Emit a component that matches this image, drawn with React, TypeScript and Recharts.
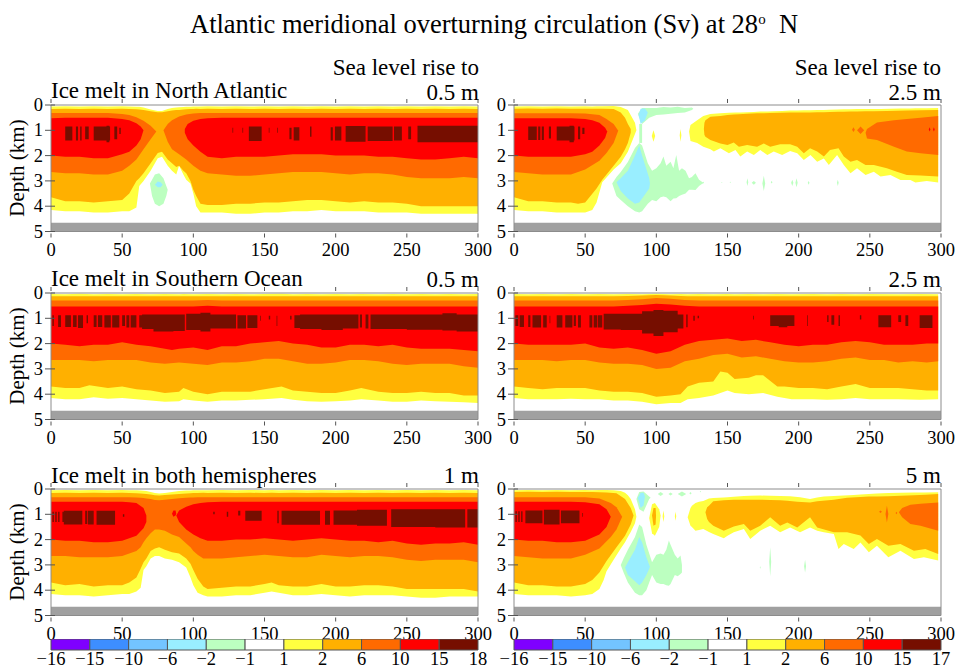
import React from 'react'
import { Area, Bar, BarChart, ComposedChart, XAxis, YAxis } from 'recharts'

// every band row is [x (yr), top depth (km), bottom depth (km)]
type Row = [number, number, number]

const xTicks = [0, 50, 100, 150, 200, 250, 300]
const depthTicks = [0, 1, 2, 3, 4, 5]
const colorbarLeft = ['−16', '−15', '−10', '−6', '−2', '−1', '1', '2', '6', '10', '15', '18']
const colorbarRight = ['−16', '−15', '−10', '−6', '−2', '−1', '1', '2', '6', '10', '15', '17']
const colorbarSteps = [0, 1, 2, 3, 4, 5, 6, 7, 8, 9, 10, 11]

const PURPLE = '#7f00ff'
const BLUE = '#3d8eff'
const SKY = '#73c4ff'
const CYAN = '#99eeff'
const GREEN = '#bcffc0'
const WHITE = '#ffffff'
const YELLOW = '#ffff40'
const ORANGE = '#ffb000'
const DARK_ORANGE = '#ff6a00'
const RED = '#ff0000'
const DARK_RED = '#760e00'
const GREY = '#a0a0a0'
const cells = [PURPLE, BLUE, SKY, CYAN, GREEN, WHITE, YELLOW, ORANGE, DARK_ORANGE, RED, DARK_RED]

const landBand: Row[] = [[0, 4.65, 5], [300, 4.65, 5]]

// North Atlantic, 0.5 m
const naYellow: Row[] = [[0,.06,4.15],[10,.05,4.2],[20,.06,4.2],[30,.05,4.25],[40,.06,4.25],[50,.05,4.2],[55,.06,4.2],[60,.07,4.05],[62,.07,3.2],[65,.1,3.0],[70,.18,2.6],[75,.24,2.1],[78,.24,2.05],[82,.16,2.4],[85,.12,2.6],[88,.1,2.75],[90,.09,2.4],[93,.08,2.75],[95,.07,2.95],[98,.07,3.1],[100,.06,3.5],[102,.06,4.0],[105,.06,4.25],[110,.05,4.25],[120,.06,4.25],[130,.05,4.3],[140,.06,4.3],[150,.05,4.25],[160,.06,4.25],[170,.05,4.2],[180,.06,4.2],[190,.05,4.15],[200,.06,4.2],[210,.05,4.2],[220,.06,4.2],[230,.05,4.25],[240,.06,4.25],[250,.05,4.25],[260,.06,4.3],[270,.05,4.3],[280,.06,4.3],[290,.05,4.3],[300,.06,4.3]]
const naOrange: Row[] = [[0,.16,3.65],[10,.15,3.8],[20,.16,3.8],[30,.15,3.85],[40,.16,3.8],[50,.15,3.75],[55,.16,3.5],[60,.17,3.0],[62,.18,2.9],[65,.2,2.7],[70,.25,2.3],[75,.29,1.9],[78,.29,1.85],[82,.25,2.15],[85,.22,2.3],[88,.2,2.45],[90,.2,2.4],[93,.18,2.6],[95,.17,2.7],[98,.16,3.0],[100,.16,3.35],[102,.15,3.6],[105,.16,3.9],[110,.15,3.95],[120,.16,3.95],[130,.15,3.9],[140,.16,3.9],[150,.15,3.85],[160,.16,3.85],[170,.15,3.8],[180,.16,3.75],[190,.15,3.75],[200,.16,3.8],[210,.15,3.85],[220,.16,3.8],[230,.15,3.85],[240,.16,3.85],[250,.15,3.9],[260,.16,4.0],[270,.15,4.0],[280,.16,4.0],[290,.15,4.0],[300,.16,4.0]]
const naDarkOrangeLeft: Row[] = [[0,.32,2.65],[10,.32,2.7],[20,.32,2.7],[30,.32,2.75],[40,.32,2.75],[50,.36,2.6],[55,.4,2.4],[60,.48,2.15],[65,.62,1.75],[70,.82,1.35],[74,1.05,1.05]]
const naDarkOrangeRight: Row[] = [[79,1.0,1.0],[82,.75,1.45],[85,.6,1.75],[90,.45,1.95],[95,.38,2.15],[100,.34,2.4],[105,.32,2.6],[110,.32,2.7],[120,.32,2.75],[130,.32,2.8],[140,.32,2.8],[150,.32,2.75],[160,.32,2.7],[170,.32,2.65],[180,.32,2.65],[190,.32,2.65],[200,.32,2.7],[210,.32,2.75],[220,.32,2.7],[230,.32,2.7],[240,.32,2.75],[250,.32,2.85],[260,.32,2.9],[270,.32,2.9],[280,.32,2.9],[290,.32,2.85],[300,.32,2.9]]
const naRedLeft: Row[] = [[0,.52,2.0],[10,.5,2.05],[20,.5,2.05],[30,.5,2.1],[40,.5,2.1],[50,.55,1.95],[55,.6,1.85],[60,.72,1.6],[63,.85,1.35],[65,1.0,1.0]]
const naRedRight: Row[] = [[94,.95,1.1],[96,.75,1.35],[100,.62,1.6],[105,.55,1.85],[110,.52,2.05],[120,.5,2.1],[130,.5,2.05],[140,.5,2.05],[150,.5,2.05],[160,.5,2.0],[170,.5,1.95],[180,.5,1.95],[190,.5,1.95],[200,.5,2.0],[210,.5,2.0],[220,.5,2.0],[230,.5,2.05],[240,.5,2.05],[250,.5,2.1],[260,.5,2.15],[270,.5,2.15],[280,.5,2.1],[290,.5,2.05],[300,.5,2.1]]
const naGreen: Row[] = [[69.5,3.1,3.1],[71,2.95,3.6],[73,2.75,3.9],[76,2.7,4.0],[79,2.9,3.9],[81,3.2,3.6],[82,3.35,3.35]]
const naCyan: Row[] = [[73,3.15,3.15],[75,3.02,3.25],[77,3.05,3.25],[78.5,3.15,3.15]]
// dark red stripes: [x start, x end, top, bottom]
const naStripes = [[10,15,.85,1.4],[17.5,19,.85,1.4],[20.5,21.5,.85,1.4],[24,26.5,.85,1.35],[30,41.5,.85,1.4],[39,41,.82,1.47],[44.5,46.5,.85,1.35],[48,49,.9,1.15],[127.5,128,.9,1.1],[134.5,135,.9,1.1],[139,148,.85,1.42],[153,153.5,.9,1.1],[159,159.5,.9,1.1],[167.5,169,.9,1.35],[170.5,174.5,.88,1.4],[182,183,.85,1.25],[196.5,198,.88,1.4],[199.5,204,.85,1.4],[207,221,.83,1.45],[222.5,240,.85,1.42],[241,246.5,.85,1.4],[251,253,.85,1.35],[257.5,300,.82,1.47]]

// North Atlantic, 2.5 m
const na25Yellow: Row[] = [[0,.06,4.15],[10,.05,4.2],[20,.06,4.2],[30,.05,4.25],[40,.06,4.25],[50,.05,4.25],[55,.06,4.15],[58,.05,3.85],[62,.05,3.05],[70,.04,2.55],[75,.08,2.3],[80,.2,1.85],[85,.7,1.15],[86,1.0,1.0]]
const na25Orange: Row[] = [[0,.15,3.65],[10,.14,3.8],[20,.15,3.8],[30,.14,3.85],[40,.15,3.85],[45,.15,3.9],[50,.15,3.85],[58,.15,3.3],[62,.15,2.95],[70,.16,2.4],[75,.3,2.05],[78,.5,1.75],[80,.75,1.5],[82,.95,1.1]]
const na25DarkOrange: Row[] = [[0,.33,2.65],[10,.33,2.7],[20,.33,2.75],[30,.33,2.75],[40,.33,2.75],[50,.34,2.55],[60,.4,2.2],[65,.55,1.9],[70,.75,1.5],[73,1.0,1.05]]
const na25Red: Row[] = [[0,.52,2.0],[10,.52,2.05],[20,.52,2.05],[30,.52,2.05],[40,.52,2.05],[50,.55,1.95],[55,.6,1.85],[60,.7,1.6],[64,.9,1.3],[65.5,1.05,1.05]]
const na25Stripes = [[10,16,.85,1.38],[17,18.5,.85,1.38],[19.5,21,.85,1.38],[24.5,26,.85,1.32],[30,42.5,.85,1.4],[39,42,.82,1.47],[45,46.5,.85,1.35],[48,49.5,.9,1.15]]
const na25UpperGreen: Row[] = [[87,.35,.35],[90,.12,.75],[95,.12,.5],[100,.12,.4],[105,.08,.38],[110,.1,.35],[115,.07,.32],[120,.12,.3],[125,.1,.2],[126,.15,.15]]
const na25UpperCyan: Row[] = [[87.5,.4,.4],[89,.15,.75],[92,.14,.6],[94,.3,.3]]
const na25Neck: Row[] = [[88,.75,1.5],[90,.75,1.5]]
const na25LowerGreen: Row[] = [[69,3.1,3.1],[72,2.85,3.6],[75,2.65,3.75],[80,2.25,4.0],[85,1.7,4.2],[88,1.5,4.25],[90,1.6,4.2],[94,2.3,3.9],[97,2.6,3.75],[100,2.5,3.8],[103,2.3,3.65],[105,2.04,3.62],[107,2.4,3.65],[110,2.24,3.8],[112,2.5,3.7],[114,1.98,3.69],[116,2.6,3.6],[118,2.5,3.55],[120.5,2.6,3.5],[123,2.9,3.35],[125,2.85,3.35],[127.5,2.7,3.36],[130,2.95,3.2],[132,3.03,3.12],[133.5,3.08,3.08]]
const na25LowerCyan: Row[] = [[72,3.05,3.05],[75,2.9,3.4],[80,2.6,3.7],[85,2.0,3.9],[88,1.6,3.85],[90,2.0,3.7],[95,2.9,3.3],[95.5,3.1,3.1]]
const na25RightYellow: Row[] = [[123,1.05,1.05],[124,.79,1.42],[128.7,.6,1.5],[133,.43,1.65],[138,.36,1.75],[140.4,.35,1.84],[145,.33,1.71],[151,.31,1.91],[155.6,.3,1.78],[159,.3,2.04],[163.8,.29,1.84],[168.5,.28,1.98],[173,.26,1.78],[178,.26,1.98],[182.5,.25,1.84],[188.4,.24,1.98],[194,.22,1.82],[199,.22,1.91],[203.6,.21,2.17],[208.3,.21,1.98],[213,.2,2.24],[217.7,.2,2.11],[221.2,.19,2.37],[227,.18,1.98],[231.7,.17,2.37],[236.4,.17,2.7],[241,.16,2.5],[247,.16,2.77],[252.8,.16,2.64],[257.5,.16,2.83],[264.5,.15,2.77],[271.5,.14,2.96],[278.5,.14,2.96],[282,.13,3.06],[290,.13,3.0],[298,.12,3.06]]
const na25RightOrange: Row[] = [[133.4,.95,.95],[133.8,.7,1.19],[134.5,.6,1.25],[138,.46,1.38],[145,.43,1.52],[150,.4,1.58],[154.4,.38,1.48],[158,.37,1.65],[163.8,.35,1.58],[170.8,.33,1.65],[175.5,.33,1.52],[180,.32,1.65],[187,.31,1.55],[194,.3,1.55],[199,.3,1.65],[203.6,.3,1.91],[208,.3,1.71],[213,.29,1.84],[217.7,.29,2.04],[222,.28,1.78],[228,.27,1.71],[231.7,.27,2.04],[236.4,.26,2.24],[241,.26,2.17],[247,.25,2.37],[252.8,.25,2.37],[262,.24,2.5],[269,.23,2.64],[276,.22,2.77],[285.6,.21,2.79],[298,.2,2.83]]
const na25RightDarkOrange: Row[] = [[247,1.1,1.1],[248,.95,1.32],[255,.69,1.38],[267,.6,1.65],[276,.55,1.84],[285.6,.5,1.91],[298,.43,1.98]]
const na25DarkOrangeSpecks = [[238.5,1,.88,1.07],[243.5,2.5,.85,1.15]]
const na25GreenSpecks = [[164,.6,2.9,3.2],[168.5,1.5,3.0,3.15],[175.5,1,2.8,3.4],[181,.6,3.0,3.1],[195.5,.8,2.95,3.2],[198.5,.8,2.9,3.25],[207,.6,3.0,3.15],[227.5,.6,2.95,3.2],[133,.6,3.03,3.08],[152,.5,3.03,3.07],[146,.5,3.04,3.07]]
const na25YellowSpecks = [[84.5,.8,.85,1.05],[98,1.2,1.0,1.45],[117,.6,.95,1.45]]
const na25RedSpecks = [[292,.6,.88,1.05],[295,.6,.88,1.05]]

// Southern Ocean, 0.5 m
const soYellow: Row[] = [[0,.04,4.15],[10,.05,4.2],[20,.03,4.2],[30,.05,4.12],[40,.04,4.18],[50,.05,4.15],[60,.04,4.2],[70,.05,4.25],[80,.04,4.3],[90,.05,4.28],[93,.04,4.2],[100,.05,4.25],[110,.04,4.3],[120,.05,4.25],[130,.04,4.25],[140,.05,4.22],[150,.04,4.2],[162,.03,4.15],[170,.05,4.22],[180,.04,4.28],[190,.05,4.3],[200,.04,4.28],[210,.05,4.25],[218,.04,4.2],[230,.05,4.25],[240,.04,4.3],[250,.05,4.3],[260,.04,4.25],[270,.05,4.28],[280,.04,4.3],[290,.05,4.32],[300,.04,4.35]]
const soOrange: Row[] = [[0,.13,3.7],[10,.13,3.75],[20,.13,3.75],[27,.13,3.65],[40,.13,3.75],[50,.13,3.7],[60,.13,3.8],[70,.13,3.85],[80,.13,3.95],[90,.13,3.9],[93,.13,3.75],[100,.13,3.9],[110,.13,4.0],[120,.13,3.9],[130,.13,3.9],[140,.13,3.9],[150,.13,3.8],[162,.13,3.7],[170,.13,3.85],[180,.13,3.9],[190,.13,3.95],[200,.13,3.95],[210,.13,3.85],[218,.13,3.75],[230,.13,3.9],[240,.13,3.95],[250,.13,3.95],[260,.13,3.9],[270,.13,3.95],[280,.13,3.95],[290,.13,4.05],[300,.13,4.05]]
const soDarkOrange: Row[] = [[0,.3,2.65],[10,.3,2.65],[20,.3,2.65],[30,.3,2.7],[40,.3,2.65],[50,.3,2.65],[60,.3,2.65],[70,.3,2.75],[80,.3,2.8],[90,.3,2.75],[100,.3,2.8],[110,.28,2.85],[120,.3,2.75],[130,.3,2.75],[140,.3,2.7],[150,.3,2.6],[160,.3,2.6],[170,.3,2.7],[180,.3,2.8],[190,.3,2.8],[200,.3,2.75],[210,.3,2.65],[220,.3,2.65],[230,.3,2.7],[240,.3,2.8],[250,.3,2.85],[260,.3,2.8],[270,.3,2.8],[280,.3,2.8],[290,.3,2.9],[300,.3,2.95]]
const soRed: Row[] = [[0,.53,2.0],[10,.53,2.05],[20,.53,2.1],[30,.53,2.05],[40,.53,2.05],[50,.53,1.95],[60,.53,2.05],[70,.53,2.1],[80,.53,2.2],[85,.53,2.25],[90,.53,2.2],[100,.53,2.15],[110,.5,2.25],[120,.53,2.1],[130,.53,2.1],[140,.53,2.0],[150,.53,1.95],[160,.53,1.9],[170,.53,2.0],[180,.53,2.05],[190,.53,2.15],[200,.53,2.15],[210,.53,2.05],[220,.53,2.05],[230,.53,2.1],[240,.53,2.05],[250,.53,2.15],[260,.53,2.2],[270,.53,2.2],[280,.53,2.2],[290,.53,2.25],[300,.53,2.3]]
const soStripes = [[1,2,.88,1.3],[5,7,.88,1.34],[10,14,.88,1.34],[15.5,18,.88,1.34],[19,22.5,.88,1.38],[25,26,.88,1.2],[30,32,.88,1.34],[33,36,.88,1.34],[37.5,42,.88,1.36],[43,48,.88,1.36],[50,52,.88,1.3],[53,55,.88,1.36],[56,60,.88,1.36],[62,64,.88,1.36],[64,72,.85,1.42],[72,86,.85,1.52],[86,94,.85,1.5],[95,105,.82,1.46],[105,112,.78,1.52],[112,130,.85,1.4],[131,137,.88,1.4],[138,145,.88,1.38],[147,147.5,.9,1.1],[153,154,.9,1.05],[158.5,159,.9,1.3],[168,169,.9,1.05],[171,175,.88,1.38],[175,190,.85,1.42],[190,205,.85,1.46],[205,216,.85,1.4],[217,218.5,.85,1.36],[221,223,.85,1.4],[224.5,250,.85,1.42],[250,275,.85,1.45],[275,285,.8,1.48],[285,300,.85,1.52]]

// Southern Ocean, 2.5 m
const so25Yellow: Row[] = [[0,.04,4.15],[10,.05,4.2],[20,.04,4.2],[30,.05,4.2],[40,.04,4.18],[50,.05,4.2],[60,.04,4.2],[70,.05,4.25],[80,.04,4.25],[90,.05,4.3],[100,.03,4.4],[110,.05,4.35],[117,.04,4.35],[122,.05,4.2],[130,.04,4.15],[140,.05,4.05],[150,.04,3.85],[155,.05,3.95],[165,.04,4.0],[175,.05,3.95],[185,.04,4.1],[195,.05,4.2],[210,.04,4.2],[220,.05,4.22],[230,.04,4.2],[240,.05,4.15],[250,.04,4.2],[270,.05,4.2],[285,.04,4.22],[298,.05,4.2]]
const so25Orange: Row[] = [[0,.13,3.7],[10,.13,3.75],[20,.13,3.8],[30,.13,3.75],[40,.13,3.75],[50,.13,3.75],[60,.13,3.85],[70,.13,3.9],[80,.12,3.9],[90,.1,3.95],[100,.08,4.1],[110,.1,4.05],[117,.12,4.0],[122,.13,3.7],[130,.13,3.55],[140,.13,3.5],[145,.13,3.1],[150,.13,3.15],[155,.13,3.4],[165,.13,3.35],[170,.13,3.25],[175,.13,3.25],[185,.13,3.7],[190,.13,3.7],[200,.13,3.75],[210,.13,3.75],[220,.13,3.8],[230,.13,3.7],[240,.13,3.6],[250,.13,3.75],[260,.13,3.75],[270,.13,3.75],[280,.13,3.8],[290,.13,3.85],[298,.13,3.85]]
const so25DarkOrange: Row[] = [[0,.3,2.65],[10,.3,2.65],[20,.3,2.65],[30,.3,2.7],[40,.3,2.65],[50,.3,2.65],[60,.3,2.75],[70,.3,2.8],[80,.28,2.8],[90,.25,2.85],[100,.2,3.0],[110,.23,2.95],[120,.28,2.7],[130,.3,2.6],[140,.3,2.45],[150,.3,2.4],[160,.3,2.55],[170,.3,2.5],[180,.3,2.6],[190,.3,2.7],[200,.3,2.75],[210,.3,2.75],[220,.3,2.7],[230,.3,2.6],[240,.3,2.55],[250,.3,2.65],[260,.3,2.65],[270,.3,2.75],[280,.3,2.7],[290,.3,2.75],[298,.3,2.7]]
const so25Red: Row[] = [[0,.53,2.0],[10,.53,2.05],[20,.53,2.05],[30,.53,2.05],[40,.53,2.05],[50,.53,2.0],[60,.53,2.15],[70,.53,2.2],[80,.5,2.15],[90,.47,2.25],[100,.42,2.4],[110,.45,2.3],[120,.5,2.05],[130,.53,1.9],[140,.53,1.85],[150,.53,1.8],[160,.53,1.9],[170,.53,1.85],[180,.53,1.95],[190,.53,2.05],[200,.53,2.1],[210,.53,2.05],[220,.53,2.05],[230,.53,1.95],[240,.53,1.9],[250,.53,1.95],[260,.53,2.05],[270,.53,2.05],[280,.53,2.05],[290,.53,2.0],[298,.53,2.0]]
const so25Stripes = [[1,3,.88,1.3],[4,7,.88,1.34],[10,11.5,.88,1.34],[13,19,.88,1.36],[20.5,23,.88,1.36],[25,25.5,.9,1.2],[30,34,.88,1.36],[36,41,.88,1.36],[42,43.5,.88,1.3],[45,47,.88,1.36],[53,55,.88,1.36],[56,58.5,.88,1.36],[59,62,.88,1.36],[63,75,.82,1.44],[75,90,.82,1.46],[90,98,.72,1.6],[98,105,.67,1.7],[105,115,.7,1.55],[115,119,.85,1.4],[121,122,.85,1.35],[126,127,.9,1.1],[129,130,.9,1.0],[168,168.5,.9,1.05],[180,186,.88,1.3],[186,192,.88,1.35],[192,197,.88,1.3],[206,206.5,.88,1.3],[220,221,.88,1.15],[223,225,.88,1.25],[228,229,.88,1.3],[243,244,.88,1.05],[256,265,.88,1.35],[270,272,.88,1.15],[275,277,.88,1.3],[285,294,.88,1.38]]

// both hemispheres, 1 m
const bothYellow: Row[] = [[0,.05,4.15],[10,.04,4.2],[20,.05,4.2],[30,.04,4.25],[40,.05,4.2],[50,.04,4.15],[55,.05,4.15],[60,.05,4.05],[63,.06,3.9],[65,.07,3.2],[67,.08,3.05],[70,.12,2.75],[73,.16,2.65],[76,.18,2.65],[80,.16,2.75],[85,.12,2.8],[90,.08,2.9],[95,.06,3.1],[98,.06,3.5],[100,.05,3.8],[103,.05,4.1],[107,.05,4.2],[110,.05,4.25],[120,.04,4.25],[130,.05,4.2],[140,.04,4.2],[150,.05,4.1],[155,.04,4.05],[160,.05,4.1],[170,.04,4.2],[180,.05,4.2],[190,.04,4.15],[200,.05,4.2],[210,.04,4.25],[220,.05,4.2],[230,.04,4.2],[240,.05,4.2],[250,.04,4.25],[260,.05,4.3],[270,.04,4.3],[280,.05,4.25],[290,.04,4.25],[300,.05,4.25]]
const bothOrange: Row[] = [[0,.16,3.7],[10,.15,3.8],[20,.16,3.75],[30,.15,3.85],[40,.16,3.8],[50,.15,3.8],[55,.16,3.7],[60,.17,3.5],[63,.18,3.15],[65,.19,2.9],[67,.2,2.75],[70,.22,2.45],[73,.25,2.35],[76,.26,2.3],[80,.24,2.4],[85,.22,2.5],[90,.2,2.55],[95,.18,2.75],[98,.17,2.95],[100,.16,3.2],[103,.16,3.55],[107,.15,3.85],[110,.16,3.95],[120,.15,3.9],[130,.16,3.85],[140,.15,3.85],[150,.16,3.75],[155,.15,3.7],[160,.16,3.8],[170,.15,3.85],[180,.16,3.85],[190,.15,3.75],[200,.16,3.85],[210,.15,3.85],[220,.16,3.8],[230,.15,3.8],[240,.16,3.85],[250,.15,3.95],[260,.16,3.95],[270,.15,3.95],[280,.16,3.95],[290,.15,3.95],[300,.16,4.05]]
const bothDarkOrange: Row[] = [[0,.33,2.65],[10,.33,2.65],[20,.33,2.7],[30,.33,2.7],[40,.33,2.7],[50,.33,2.65],[55,.33,2.55],[60,.34,2.45],[63,.35,2.3],[65,.36,2.1],[67,.38,1.95],[70,.4,1.75],[73,.43,1.6],[76,.44,1.6],[80,.42,1.65],[85,.4,1.8],[90,.37,1.9],[95,.35,2.15],[98,.34,2.3],[100,.34,2.45],[103,.33,2.6],[107,.33,2.75],[110,.33,2.75],[120,.33,2.75],[130,.33,2.7],[140,.33,2.65],[150,.33,2.6],[160,.33,2.65],[170,.33,2.7],[180,.33,2.7],[190,.33,2.6],[200,.33,2.65],[210,.33,2.7],[220,.33,2.65],[230,.33,2.65],[240,.33,2.7],[250,.33,2.8],[260,.33,2.85],[270,.33,2.8],[280,.33,2.8],[290,.33,2.8],[300,.33,2.9]]
const bothRedLeft: Row[] = [[0,.5,2.0],[10,.5,2.05],[20,.5,2.05],[30,.5,2.1],[40,.5,2.1],[50,.5,2.05],[55,.52,1.95],[60,.55,1.85],[65,.75,1.55],[67,1.05,1.3]]
const bothRedRight: Row[] = [[88,1.05,1.05],[90,.85,1.3],[95,.7,1.6],[100,.6,1.8],[105,.55,1.95],[110,.52,2.05],[120,.5,2.05],[130,.5,2.0],[140,.5,2.0],[150,.5,1.95],[160,.5,2.0],[170,.5,2.05],[180,.5,2.0],[190,.5,1.95],[200,.5,2.0],[210,.5,2.05],[220,.5,2.05],[230,.5,2.1],[240,.5,2.05],[250,.5,2.15],[260,.5,2.2],[270,.5,2.15],[280,.5,2.15],[290,.5,2.1],[300,.5,2.2]]
const bothRedSpot: Row[] = [[85,.98,.98],[86,.85,1.1],[87.5,.85,1.05],[88,.98,.98]]
const bothStripes = [[1,2,.9,1.3],[3,4,.9,1.3],[5,6,.9,1.3],[8,9,.9,1.3],[9,22,.86,1.4],[24,25.5,.86,1.38],[26,30,.86,1.4],[32,45,.86,1.41],[50.5,51.5,1.0,1.1],[114,115,.9,1.0],[123.5,124.5,.9,1.1],[131.5,133,.86,1.05],[136.5,148,.86,1.25],[159,160,.86,1.35],[162,189,.86,1.41],[192.5,196,.86,1.41],[198.5,215,.85,1.41],[215,236,.82,1.45],[239,270,.8,1.5],[270,291,.8,1.52],[292.5,300,.8,1.52]]

// both hemispheres, 5 m
const both5Yellow: Row[] = [[0,.05,4.15],[10,.04,4.2],[20,.05,4.2],[30,.04,4.2],[40,.05,4.25],[50,.04,4.2],[55,.05,4.15],[60,.04,3.95],[63,.04,3.6],[65,.04,3.25],[70,.05,2.8],[75,.08,2.35],[78,.15,2.1],[80,.25,1.9],[82,.4,1.7],[85,.8,1.35],[86,1.1,1.1]]
const both5Orange: Row[] = [[0,.12,3.7],[10,.11,3.8],[20,.12,3.8],[30,.11,3.85],[40,.12,3.85],[50,.12,3.75],[55,.12,3.6],[60,.13,3.3],[65,.14,2.85],[72,.17,2.3],[78,.4,1.85],[82,.75,1.4],[84,1.05,1.05]]
const both5DarkOrange: Row[] = [[0,.33,2.65],[10,.33,2.7],[20,.33,2.75],[30,.33,2.75],[40,.33,2.75],[50,.33,2.6],[60,.38,2.35],[68,.55,1.9],[72,.72,1.6],[76,1.1,1.1]]
const both5Red: Row[] = [[0,.5,2.0],[10,.5,2.05],[20,.5,2.05],[30,.5,2.1],[40,.5,2.1],[50,.52,2.05],[60,.6,1.8],[65,.8,1.5],[68,1.1,1.1]]
const both5Stripes = [[1,2,.88,1.3],[3,4,.88,1.3],[5,6,.88,1.3],[8,20,.85,1.35],[21,32,.82,1.4],[33,46,.85,1.35],[48,48.5,.95,1.1]]
const both5SpotYellow: Row[] = [[95,1.15,1.15],[97,.6,1.75],[99,.55,1.85],[102,.8,1.5],[103,1.05,1.05]]
const both5SpotOrange: Row[] = [[97,1.05,1.05],[98,.75,1.45],[99.5,.75,1.4],[99.8,1.05,1.05]]
const both5YellowSpecks = [[105,.6,.85,1.3],[113.5,.5,.9,1.25]]
const both5RightYellow: Row[] = [[122,1.12,1.12],[124,.75,1.45],[125,.66,1.5],[127.5,.55,1.65],[130,.5,1.62],[133,.47,1.58],[137,.38,1.7],[140,.36,1.78],[147.4,.34,1.95],[150,.33,1.85],[154.4,.31,1.71],[161.5,.28,1.58],[166,.27,1.98],[173,.26,1.65],[180,.27,1.45],[187,.28,1.71],[194,.29,1.52],[201,.33,1.71],[208,.4,1.52],[213,.34,1.65],[217.7,.3,1.71],[224.7,.28,1.78],[228,.27,2.37],[231.7,.26,2.17],[238.7,.24,2.37],[243.4,.22,2.11],[249.3,.2,2.5],[255,.18,2.24],[263,.16,2.7],[271.5,.15,2.44],[281,.14,2.77],[288,.14,2.7],[298,.13,2.83]]
const both5RightOrange: Row[] = [[134.5,.92,.92],[135.7,.72,1.19],[137,.66,1.3],[140,.48,1.45],[147.4,.44,1.65],[154.4,.42,1.48],[161.5,.42,1.38],[166,.42,1.65],[173,.42,1.45],[180,.43,1.12],[187,.44,1.45],[192,.46,1.32],[199,.5,1.52],[208,.53,1.12],[213,.48,1.52],[224.7,.42,1.71],[234,.35,1.71],[243.4,.32,1.84],[249.3,.3,2.17],[255,.3,1.98],[263,.29,2.24],[271.5,.27,2.17],[281,.25,2.44],[289,.23,2.37],[298,.2,2.57]]
const both5RightDarkOrange: Row[] = [[270.4,.92,.92],[272.7,.75,1.12],[278.5,.62,1.38],[285.6,.58,1.45],[298,.53,1.65]]
const both5DarkOrangeSpecks = [[262,1,.66,1.32],[257.5,1,.85,.95],[268.7,.6,.9,1.0]]
const both5UpperGreen: Row[] = [[86,.4,.4],[88,.12,.8],[91,.1,.9],[95,.3,.4],[96,.35,.35]]
const both5UpperCyan: Row[] = [[87,.35,.35],[89,.15,.75],[91,.15,.65],[92,.3,.3]]
const both5GreenSpecks = [[103,2,.12,.28],[110,1.5,.14,.26],[118,3,.1,.3],[124,.8,.12,.22],[131,.5,.08,.13],[180,.7,2.3,3.45],[173,.3,3.05,3.15],[204.5,.7,2.8,3.3]]
const both5LowerGreen: Row[] = [[75,3.0,3.0],[77,2.75,3.3],[80,2.4,3.7],[85,1.9,4.1],[88,1.4,4.2],[90,1.5,4.2],[93,2.2,4.0],[95,2.55,3.7],[97,2.9,3.4],[100,2.6,3.7],[103,2.55,3.75],[105,2.6,3.75],[107,2.4,3.8],[108.8,2.04,3.82],[110,2.2,3.75],[113,2.6,3.4],[115,2.75,3.45],[117,2.63,3.36],[118,3.0,3.3]]
const both5LowerCyan: Row[] = [[78,3.1,3.1],[80,2.9,3.4],[85,2.4,3.65],[88,1.9,3.8],[90,2.1,3.7],[93,2.7,3.4],[95,3.0,3.15],[95.5,3.07,3.07]]

const toRows = (rows: Row[]) => rows.map(([x, top, bottom]) => ({ x, range: [top, bottom] }))

// flat-topped blocks separated by gaps
const stripeRows = (stripes: number[][]) =>
  stripes.flatMap(([x0, x1, top, bottom]) => [
    { x: x0, range: [top, bottom] },
    { x: x1, range: [top, bottom] },
    { x: x1, range: [null, null] },
  ])

// small pointed patches: [x centre, half width, top, bottom]
const speckRows = (specks: number[][]) =>
  specks.flatMap(([x, w, top, bottom]) => {
    const mid = (top + bottom) / 2
    return [
      { x: x - w, range: [mid, mid] },
      { x, range: [top, bottom] },
      { x: x + w, range: [mid, mid] },
      { x: x + w, range: [null, null] },
    ]
  })

type Layer = { color: string; rows: any[] }
const band = (color: string, rows: Row[]): Layer => ({ color, rows: toRows(rows) })
const speck = (color: string, specks: number[][]): Layer => ({ color, rows: speckRows(specks) })
const stripe = (color: string, stripes: number[][]): Layer => ({ color, rows: stripeRows(stripes) })

const SERIF = '"Liberation Serif", serif'
const FRAME = '#8c8c8c'
const TICK_FONT = 18.5

const XTick = ({ x, y, payload, inner }: any) => (
  <g>
    <line x1={x} x2={x} y1={y} y2={inner ? y + 4 : y - 4} stroke="#555" />
    {!inner && (
      <text x={x} y={y + 18.5} textAnchor="middle" fontFamily={SERIF} fontSize={TICK_FONT} fill="#000">
        {payload.value}
      </text>
    )}
  </g>
)

const YTick = ({ x, y, payload, right }: any) => (
  <g>
    <line x1={x} x2={right ? x - 10 : x + 10} y1={y} y2={y} stroke="#555" />
    {!right && (
      <text x={x - 2} y={y + 6} textAnchor="end" fontFamily={SERIF} fontSize={TICK_FONT} fill="#000">
        {payload.value}
      </text>
    )}
  </g>
)

function Panel({ left, top, width, layers }: { left: number; top: number; width: number; layers: Layer[] }) {
  const height = 126.5
  // one pixel of each margin goes to the (otherwise empty) axis box
  const margin = { top: 11, right: 23, bottom: 27, left: 47 }
  return (
    <div style={{ position: 'absolute', left: left - margin.left - 1, top: top - margin.top - 1 }}>
      <ComposedChart width={width + margin.left + margin.right + 2} height={height + margin.top + margin.bottom + 2} margin={margin} data={layers[0].rows}>
        {layers.map((layer, i) => (
          <Area
            key={i}
            data={layer.rows}
            dataKey="range"
            type="linear"
            fill={layer.color}
            fillOpacity={1}
            stroke="none"
            dot={false}
            activeDot={false}
            isAnimationActive={false}
          />
        ))}
        <XAxis dataKey="x" type="number" domain={[0, 300]} ticks={xTicks} interval={0} height={1} tickLine={false} tickMargin={0} stroke={FRAME} tick={<XTick />} />
        <XAxis xAxisId="top" orientation="top" dataKey="x" type="number" domain={[0, 300]} ticks={xTicks} interval={0} height={1} tickLine={false} tickMargin={0} stroke={FRAME} tick={<XTick inner />} />
        <YAxis reversed type="number" domain={[0, 5]} ticks={depthTicks} interval={0} width={1} tickLine={false} tickMargin={0} stroke={FRAME} tick={<YTick />} />
        <YAxis yAxisId="right" orientation="right" reversed type="number" domain={[0, 5]} ticks={depthTicks} interval={0} width={1} tickLine={false} tickMargin={0} stroke={FRAME} tick={<YTick right />} />
      </ComposedChart>
    </div>
  )
}

const CbTick = ({ x, y, payload, labels }: any) => (
  <text x={x} y={y + 8.5} textAnchor="middle" fontFamily={SERIF} fontSize={TICK_FONT} fill="#000">
    {labels[payload.value]}
  </text>
)

function Colorbar({ left, width, labels }: { left: number; width: number; labels: string[] }) {
  const margin = { top: 0, right: 30, bottom: 18, left: 30 }
  const row = Object.fromEntries(cells.map((_, i) => [`c${i}`, 1]))
  return (
    <div style={{ position: 'absolute', left: left - margin.left, top: 639 }}>
      <BarChart layout="vertical" width={width + margin.left + margin.right} height={11 + margin.bottom + 1} margin={margin} data={[row]} barCategoryGap={0}>
        <XAxis type="number" domain={[0, 11]} ticks={colorbarSteps} interval={0} height={1} tickLine={false} axisLine={false} tickMargin={0} tick={<CbTick labels={labels} />} />
        <YAxis type="category" hide />
        {cells.map((color, i) => (
          <Bar key={i} dataKey={`c${i}`} stackId="cb" fill={color} stroke="#555" isAnimationActive={false} />
        ))}
      </BarChart>
    </div>
  )
}

const naLayers = [
  band(YELLOW, naYellow), band(ORANGE, naOrange), band(DARK_ORANGE, naDarkOrangeLeft), band(DARK_ORANGE, naDarkOrangeRight),
  band(RED, naRedLeft), band(RED, naRedRight), stripe(DARK_RED, naStripes), band(GREEN, naGreen), band(CYAN, naCyan), band(GREY, landBand),
]
const na25Layers = [
  band(YELLOW, na25Yellow), band(ORANGE, na25Orange), band(DARK_ORANGE, na25DarkOrange), band(RED, na25Red), stripe(DARK_RED, na25Stripes),
  band(GREEN, na25UpperGreen), band(GREEN, na25Neck), band(CYAN, na25UpperCyan), band(GREEN, na25LowerGreen), band(CYAN, na25LowerCyan),
  speck(GREEN, na25GreenSpecks), speck(YELLOW, na25YellowSpecks),
  band(YELLOW, na25RightYellow), band(ORANGE, na25RightOrange), band(DARK_ORANGE, na25RightDarkOrange), speck(DARK_ORANGE, na25DarkOrangeSpecks), speck(RED, na25RedSpecks), band(GREY, landBand),
]
const soLayers = [band(YELLOW, soYellow), band(ORANGE, soOrange), band(DARK_ORANGE, soDarkOrange), band(RED, soRed), stripe(DARK_RED, soStripes), band(GREY, landBand)]
const so25Layers = [band(YELLOW, so25Yellow), band(ORANGE, so25Orange), band(DARK_ORANGE, so25DarkOrange), band(RED, so25Red), stripe(DARK_RED, so25Stripes), band(GREY, landBand)]
const bothLayers = [
  band(YELLOW, bothYellow), band(ORANGE, bothOrange), band(DARK_ORANGE, bothDarkOrange), band(RED, bothRedLeft), band(RED, bothRedRight), band(RED, bothRedSpot),
  stripe(DARK_RED, bothStripes), band(GREY, landBand),
]
const both5Layers = [
  band(YELLOW, both5Yellow), band(ORANGE, both5Orange), band(DARK_ORANGE, both5DarkOrange), band(RED, both5Red), stripe(DARK_RED, both5Stripes),
  band(YELLOW, both5SpotYellow), band(ORANGE, both5SpotOrange), speck(YELLOW, both5YellowSpecks),
  band(GREEN, both5UpperGreen), band(CYAN, both5UpperCyan), band(GREEN, both5LowerGreen), band(CYAN, both5LowerCyan), speck(GREEN, both5GreenSpecks),
  band(YELLOW, both5RightYellow), band(ORANGE, both5RightOrange), band(DARK_ORANGE, both5RightDarkOrange), speck(DARK_ORANGE, both5DarkOrangeSpecks), band(GREY, landBand),
]

const LEFT_X = 51
const RIGHT_X = 513.5
const PLOT_W = 427
const ROWS = [105, 293, 489.3]
const ROW_CENTRES = [168, 356, 552]

export default function App() {
  return (
    <div style={{ position: 'absolute', left: 0, top: 0, width: 957, height: 669, overflow: 'hidden', background: '#fff' }}>
      <Panel left={LEFT_X} top={ROWS[0]} width={PLOT_W} layers={naLayers} />
      <Panel left={RIGHT_X} top={ROWS[0]} width={PLOT_W} layers={na25Layers} />
      <Panel left={LEFT_X} top={ROWS[1]} width={PLOT_W} layers={soLayers} />
      <Panel left={RIGHT_X} top={ROWS[1]} width={PLOT_W} layers={so25Layers} />
      <Panel left={LEFT_X} top={ROWS[2]} width={PLOT_W} layers={bothLayers} />
      <Panel left={RIGHT_X} top={ROWS[2]} width={PLOT_W} layers={both5Layers} />
      <Colorbar left={LEFT_X} width={PLOT_W} labels={colorbarLeft} />
      <Colorbar left={RIGHT_X} width={PLOT_W} labels={colorbarRight} />
      <svg width={957} height={669} style={{ position: 'absolute', left: 0, top: 0, pointerEvents: 'none' }} fontFamily={SERIF} fill="#000">
        <text x={190} y={33} fontSize={26.5}>Atlantic meridional overturning circulation (Sv) at 28<tspan dy={-9} fontSize={15}>o</tspan><tspan dy={9}>{'\u00a0\u00a0'}N</tspan></text>
        <text x={51} y={98} fontSize={23}>Ice melt in North Atlantic</text>
        <text x={479} y={75} fontSize={23} textAnchor="end">Sea level rise to</text>
        <text x={479} y={100} fontSize={23} textAnchor="end">0.5 m</text>
        <text x={941} y={75} fontSize={23} textAnchor="end">Sea level rise to</text>
        <text x={941} y={100} fontSize={23} textAnchor="end">2.5 m</text>
        <text x={51} y={286} fontSize={23}>Ice melt in Southern Ocean</text>
        <text x={479} y={287} fontSize={23} textAnchor="end">0.5 m</text>
        <text x={941} y={287} fontSize={23} textAnchor="end">2.5 m</text>
        <text x={51} y={483} fontSize={23}>Ice melt in both hemispheres</text>
        <text x={479} y={483} fontSize={23} textAnchor="end">1 m</text>
        <text x={941} y={483} fontSize={23} textAnchor="end">5 m</text>
        {ROW_CENTRES.map((c) => (
          <text key={c} transform={`translate(24 ${c}) rotate(-90)`} textAnchor="middle" fontSize={21}>Depth (km)</text>
        ))}
      </svg>
    </div>
  )
}
